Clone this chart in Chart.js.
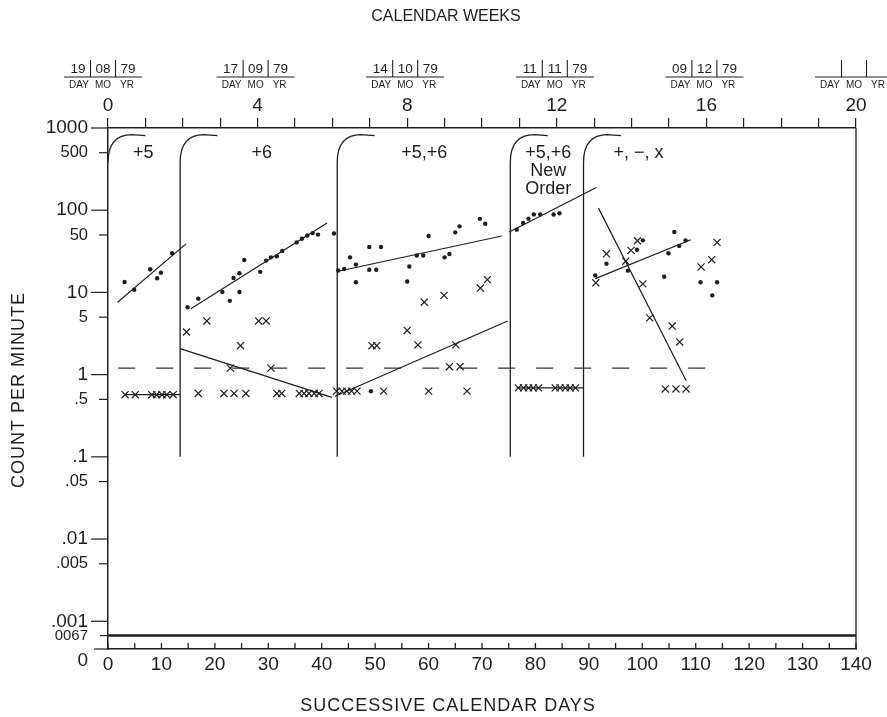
<!DOCTYPE html>
<html>
<head>
<meta charset="utf-8">
<script src="https://cdn.jsdelivr.net/npm/chart.js@4.4.1/dist/chart.umd.min.js"></script>
<style>
  html, body { margin: 0; padding: 0; background: #fff; }
  #wrap { width: 887px; height: 717px; }
</style>
</head>
<body>
<div id="wrap"><canvas id="chart" width="887" height="717"></canvas></div>
<script>
// Standard celeration chart: counts per minute over successive calendar days

// axes
const yMin = 0.00046;
const yTickValues = [yMin, 0.00067, 0.001, 0.005, 0.01, 0.05, 0.1, 0.5, 1, 5, 10, 50, 100, 500, 1000];
const yTickLabels = [['', '0'], '0067', '.001', '.005', '.01', '.05', '.1', '.5', '1', '5', '10', '50', '100', '500', '1000'];
const weekLabelEvery = 4;
const dateWeeks = [0, 4, 8, 12, 16, 20];
const dateLabels = [['19', '08', '79'], ['17', '09', '79'], ['14', '10', '79'], ['11', '11', '79'], ['09', '12', '79'], ['', '', '']];

// phases
const phaseStarts = [0, 13.5, 42.9, 75.3, 89.0];
const phaseLabelDays = [6.6, 28.8, 59.2, 82.4, 99.3];
const phaseLabels = [['+5'], ['+6'], ['+5,+6'], ['+5,+6', 'New', 'Order'], ['+, \u2212, x']];

// corrects (dots)
const dots1 = [[3.1, 13.4], [4.9, 10.8], [7.9, 19.1], [9.2, 14.9], [9.9, 17.4], [12.0, 30]];
const dots2 = [[14.9, 6.6], [16.9, 8.4], [21.4, 10.1], [22.8, 7.9], [23.5, 15], [24.6, 17.1], [24.6, 10.1],
  [25.5, 24.8], [28.5, 17.8], [29.6, 24.4], [30.5, 26.7], [31.6, 27.5], [32.6, 32], [35.3, 40.6],
  [36.3, 45], [37.3, 49.3], [38.3, 52.7], [39.3, 50.5], [42.3, 52]];
const dots3 = [[43.1, 18.5], [44.2, 19.3], [45.3, 26.7], [46.4, 21.8], [46.4, 13.3], [48.9, 35.7], [51.1, 35.7],
  [48.9, 18.9], [50.2, 18.9], [56.0, 13.6], [56.4, 20.7], [57.8, 28.1], [59.0, 28.1], [60.0, 48.6],
  [63.0, 26.7], [63.9, 29.3], [65.0, 53.8], [65.8, 63.6], [69.6, 78.5], [70.6, 68.4], [49.2, 0.63]];
const dots4 = [[76.5, 58], [77.7, 70], [78.7, 79], [79.7, 88.5], [80.9, 88.5], [83.4, 88.5], [84.5, 92]];
const dots5 = [[91.2, 16.1], [93.3, 22.3], [97.3, 18.4], [99.0, 33], [100.1, 43], [104.9, 30], [106.0, 54.4],
  [106.9, 36.8], [108.1, 43], [104.1, 15.5], [110.9, 13.3], [114.0, 13.3], [113.1, 9.2]];

// errors (x)
const xs1 = [[3.2, 0.57], [5.1, 0.57], [8.2, 0.57], [9.1, 0.57], [10.1, 0.57], [11.0, 0.57], [12.2, 0.57]];
const xs2 = [[14.7, 3.3], [18.5, 4.5], [24.8, 2.25], [28.2, 4.5], [29.6, 4.5], [22.9, 1.2], [30.5, 1.2],
  [16.9, 0.59], [21.7, 0.59], [23.6, 0.59], [25.8, 0.59], [31.6, 0.59], [32.5, 0.59], [35.8, 0.59],
  [36.7, 0.59], [37.6, 0.59], [38.6, 0.59], [39.5, 0.59]];
const xs3 = [[59.2, 7.6], [62.9, 9.2], [69.7, 11.3], [71.0, 14.3], [56.0, 3.45], [49.4, 2.25], [50.3, 2.25],
  [58.0, 2.3], [65.1, 2.3], [63.9, 1.25], [65.9, 1.25], [42.8, 0.63], [43.8, 0.63], [44.7, 0.63],
  [45.6, 0.63], [46.6, 0.63], [51.6, 0.63], [60.0, 0.63], [67.2, 0.63]];
const xs4 = [[76.8, 0.69], [77.8, 0.69], [78.7, 0.69], [79.6, 0.69], [80.6, 0.69], [83.7, 0.69], [84.6, 0.69],
  [85.6, 0.69], [86.5, 0.69], [87.5, 0.69]];
const xs5 = [[91.3, 13.1], [93.3, 29.5], [96.9, 24], [97.9, 32.5], [99.1, 42.5], [100.1, 12.7], [101.4, 4.9],
  [105.6, 3.9], [107.0, 2.5], [111.0, 20.4], [113.0, 25], [114.0, 40.6], [104.3, 0.67], [106.3, 0.67], [108.2, 0.67]];

// celeration lines
const dotTrends = [
  [[1.8, 7.6], [14.6, 39]],
  [[15.5, 6.35], [41.0, 70]],
  [[43.1, 18.1], [73.7, 48.6]],
  [[75.1, 54.3], [91.4, 189]],
  [[91.2, 14.7], [109.1, 43.8]],
];
const xTrends = [
  [[3.2, 0.57], [13.5, 0.57]],
  [[13.5, 2.07], [41.9, 0.53]],
  [[42.5, 0.545], [74.8, 4.5]],
  [[76.5, 0.69], [89.0, 0.69]],
  [[91.8, 106], [108.2, 0.85]],
];
const aimLine = [[1.9, 1.2], [114.6, 1.2]];

const ink = '#1e1e1e';
const FONT = "'Liberation Sans', Arial, Helvetica, sans-serif";
Chart.defaults.font.family = FONT;
Chart.defaults.color = ink;

const toPts = arr => arr.map(([x, y]) => ({ x, y }));

const trendSet = pts => ({
  type: 'line', data: toPts(pts), borderColor: ink, borderWidth: 1.2,
  pointRadius: 0, fill: false, tension: 0,
});

const datasets = [
  ...dotTrends.map(trendSet),
  ...xTrends.map(trendSet),
  { type: 'line', data: toPts(aimLine), borderColor: '#333', borderWidth: 1.3,
    borderDash: [17, 21], pointRadius: 0, fill: false },
  { label: 'Corrects', data: toPts([...dots1, ...dots2, ...dots3, ...dots4, ...dots5]),
    pointStyle: 'circle', pointRadius: 2.2, backgroundColor: ink, borderWidth: 0 },
  { label: 'Errors', data: toPts([...xs1, ...xs2, ...xs3, ...xs4, ...xs5]),
    pointStyle: 'crossRot', pointRadius: 5, borderColor: ink, borderWidth: 1.2 },
];

function line(ctx, x1, y1, x2, y2) {
  ctx.beginPath(); ctx.moveTo(x1, y1); ctx.lineTo(x2, y2); ctx.stroke();
}

const isDecade = v => Math.abs(Math.log10(v) - Math.round(Math.log10(v))) < 1e-6;

// phase lines, labels, dates, titles
const chartDecor = {
  id: 'chartDecor',
  beforeDatasetsDraw(chart) {
    const { ctx, chartArea: a } = chart;
    const { x, y, x2 } = chart.scales;
    ctx.save();
    ctx.strokeStyle = ink;
    ctx.fillStyle = ink;
    ctx.lineWidth = 1.3;

    // right edge
    line(ctx, a.right, a.top, a.right, a.bottom);
    // heavy line at 0067
    ctx.lineWidth = 2.5;
    const y67 = y.getPixelForValue(0.00067);
    line(ctx, a.left, y67, a.right, y67);
    // inward day ticks
    ctx.lineWidth = 1.3;
    for (let d = 0; d <= 140; d += 5) {
      const px = x.getPixelForValue(d);
      line(ctx, px, a.bottom, px, a.bottom - 6);
    }
    // count ticks, long for decades
    ctx.lineWidth = 1.2;
    yTickValues.forEach(v => {
      const py = y.getPixelForValue(v);
      let len = isDecade(v) ? 17 : 9;
      if (v === yMin) len = 14;
      if (v === 0.00067) len = 8;
      line(ctx, a.left - len, py, a.left, py);
    });

    // phase change lines with rounded tops
    const yb = y.getPixelForValue(0.1);
    const yc = y.getPixelForValue(380);
    const yt = y.getPixelForValue(830);
    ctx.lineWidth = 1.3;
    phaseStarts.forEach((p, i) => {
      const px = x.getPixelForValue(p);
      ctx.beginPath();
      if (i > 0) { ctx.moveTo(px, yb); ctx.lineTo(px, yc); } else { ctx.moveTo(px, yc); }
      ctx.quadraticCurveTo(px, yt, px + 24, yt);
      ctx.lineTo(x.getPixelForValue(p + 7), yt + 1);
      ctx.stroke();
    });

    // phase labels
    ctx.font = '18px ' + FONT;
    ctx.textAlign = 'center';
    ctx.textBaseline = 'middle';
    phaseLabels.forEach((lines, i) => {
      const px = x.getPixelForValue(phaseLabelDays[i]);
      const py = y.getPixelForValue(500);
      lines.forEach((t, j) => ctx.fillText(t, px, py + j * 18));
    });

    // date blocks above week axis
    ctx.lineWidth = 1.1;
    dateWeeks.forEach((w, i) => {
      const cx = x2.getPixelForValue(w) - (i === 0 ? 5 : 2);
      const parts = dateLabels[i];
      ctx.font = '13.5px ' + FONT;
      parts.forEach((t, j) => ctx.fillText(t, cx + (j - 1) * 25, 69));
      line(ctx, cx - 12.5, 60, cx - 12.5, 77);
      line(ctx, cx + 12.5, 60, cx + 12.5, 77);
      line(ctx, cx - 39, 77, cx + 39, 77);
      ctx.font = '10px ' + FONT;
      ['DAY', 'MO', 'YR'].forEach((t, j) => ctx.fillText(t, cx + (j - 1) * 24, 85));
    });

    // titles
    ctx.font = '16px ' + FONT;
    ctx.fillText('CALENDAR WEEKS', 446, 17);
    ctx.font = '18px ' + FONT;
    ctx.letterSpacing = '1px';
    ctx.fillText('SUCCESSIVE CALENDAR DAYS', 448, 706);
    ctx.translate(19, 390);
    ctx.rotate(-Math.PI / 2);
    ctx.fillText('COUNT PER MINUTE', 0, 0);
    ctx.restore();
  }
};

const tickFontSize = v => {
  if (v === yMin) return 19;
  if (v === 0.00067) return 15;
  return isDecade(v) ? 19 : 16.5;
};

new Chart(document.getElementById('chart'), {
  type: 'scatter',
  data: { datasets },
  options: {
    responsive: false,
    animation: false,
    devicePixelRatio: 1,
    layout: { padding: { left: 0, right: 31, top: 0, bottom: 0 } },
    plugins: { legend: { display: false }, tooltip: { enabled: false } },
    scales: {
      x: {
        type: 'linear', position: 'bottom', min: 0, max: 140,
        afterFit: s => { s.height = 68; },
        grid: { display: false, drawTicks: false },
        border: { display: true, color: ink, width: 1.5 },
        ticks: {
          stepSize: 5, autoSkip: false, maxRotation: 0, padding: 4,
          font: { size: 19 }, color: ink,
          callback: v => (v % 10 === 0 ? String(v) : ''),
        },
      },
      x2: {
        type: 'linear', axis: 'x', position: 'top', min: 0, max: 20,
        afterFit: s => { s.height = 128; },
        grid: { drawOnChartArea: false, tickLength: 10, color: ink, lineWidth: 1.2 },
        border: { display: true, color: ink, width: 1.5 },
        ticks: {
          stepSize: 1, autoSkip: false, maxRotation: 0, padding: 1,
          font: { size: 19 }, color: ink,
          callback: v => (v % weekLabelEvery === 0 ? String(v) : ''),
        },
      },
      y: {
        type: 'logarithmic', position: 'left', min: yMin, max: 1000,
        afterFit: s => { s.width = 108; },
        afterBuildTicks: s => { s.ticks = yTickValues.map(value => ({ value })); },
        grid: { display: false, drawTicks: false },
        border: { display: true, color: ink, width: 1.5 },
        ticks: {
          autoSkip: false, padding: 20, color: ink,
          font: c => ({ size: tickFontSize(c.tick ? c.tick.value : 1) }),
          callback: (v, i) => yTickLabels[i],
        },
      },
    },
  },
  plugins: [chartDecor],
});
</script>
</body>
</html>
